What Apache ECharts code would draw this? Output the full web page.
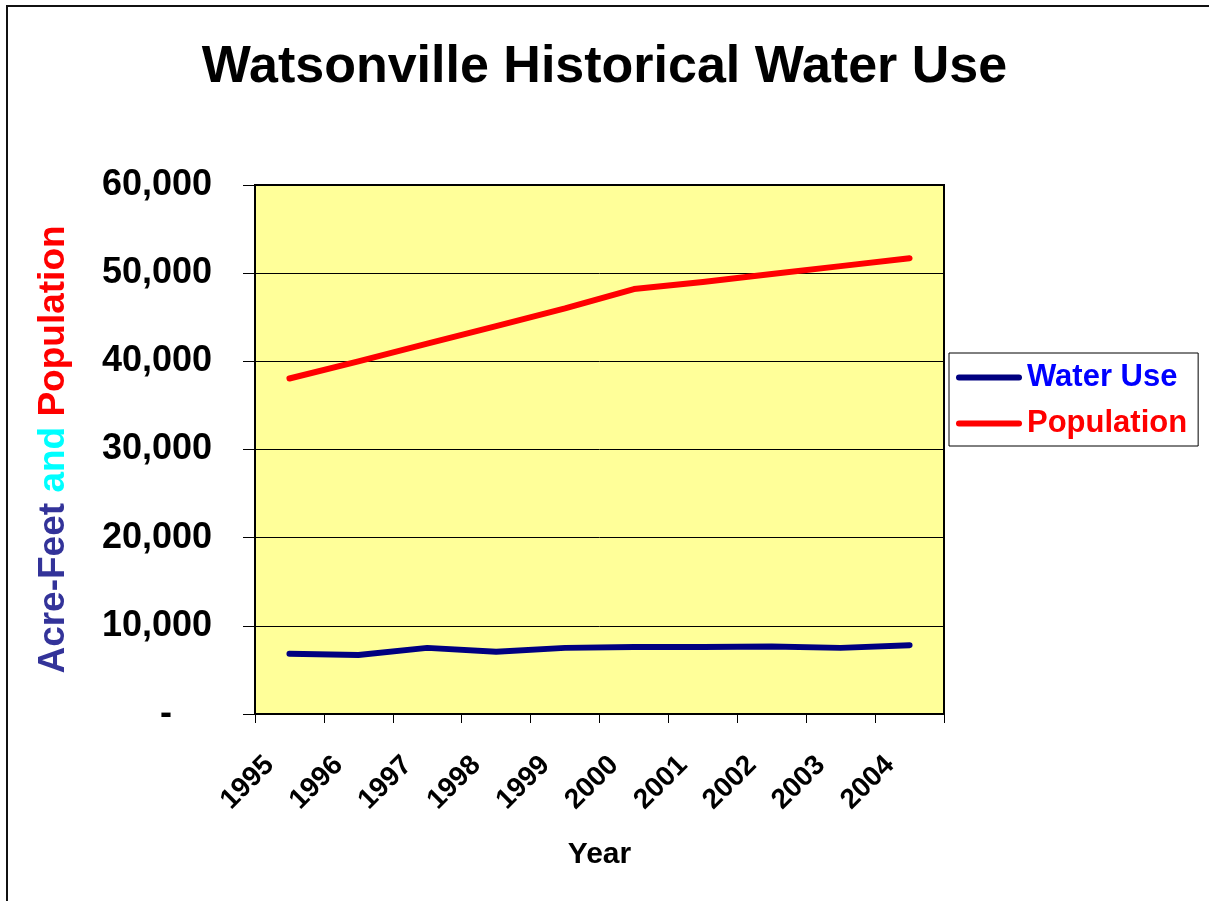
<!DOCTYPE html>
<html>
<head>
<meta charset="utf-8">
<title>Watsonville Historical Water Use</title>
<script src="https://cdn.jsdelivr.net/npm/echarts@6/dist/echarts.min.js"></script>
<style>
  html, body { margin: 0; padding: 0; background: #fff; }
  #main { width: 1209px; height: 901px; }
</style>
</head>
<body>
<!-- chart container -->
<div id="main"></div>
<script>
// data
var years = ['1995', '1996', '1997', '1998', '1999', '2000', '2001', '2002', '2003', '2004']
var waterUse = [6840, 6700, 7500, 7050, 7500, 7600, 7600, 7650, 7500, 7800]
var population = [38050, 40000, 42000, 44000, 46000, 48200, 49000, 49900, 50800, 51700]

var FONT = 'Arial, "Liberation Sans", sans-serif'
// thick line with round ends for the legend keys
var LINE_ICON = 'path://M3,0 L63,0 A3,3 0 0 1 63,6 L3,6 A3,3 0 0 1 3,0 Z'

var chart = echarts.init(document.getElementById('main'))
chart.setOption({
  backgroundColor: '#fff',
  textStyle: { fontFamily: FONT },
  // outer frame
  graphic: [{
    type: 'rect',
    shape: { x: 7, y: 6, width: 1300, height: 1000 },
    style: { fill: 'none', stroke: '#111', lineWidth: 2 },
    silent: true
  }],
  title: {
    text: 'Watsonville Historical Water Use',
    left: 'center',
    top: 42,
    padding: 0,
    textStyle: { fontFamily: FONT, fontSize: 52, fontWeight: 'bold', color: '#000' }
  },
  legend: {
    orient: 'vertical',
    left: 949,
    top: 353,
    padding: [9, 11, 7, 7],
    itemWidth: 66,
    itemHeight: 6,
    itemGap: 15,
    backgroundColor: '#fff',
    borderColor: '#000',
    borderWidth: 1,
    borderRadius: 0,
    textStyle: { fontFamily: FONT, fontSize: 31, fontWeight: 'bold' },
    data: [
      { name: 'Water Use', icon: LINE_ICON, textStyle: { color: '#0000FF' } },
      { name: 'Population', icon: LINE_ICON, textStyle: { color: '#FF0000' } }
    ]
  },
  grid: {
    left: 255,
    top: 185,
    width: 689,
    height: 529,
    show: true,
    backgroundColor: '#FFFF99',
    borderColor: '#000',
    borderWidth: 2
  },
  xAxis: {
    type: 'category',
    data: years,
    boundaryGap: true,
    name: 'Year',
    nameLocation: 'middle',
    nameGap: 126,
    nameTextStyle: { fontFamily: FONT, fontSize: 30, fontWeight: 'bold', color: '#000' },
    axisLine: { lineStyle: { color: '#000', width: 1 } },
    axisTick: { show: true, length: 9, lineStyle: { color: '#000' } },
    axisLabel: {
      rotate: 45,
      margin: 27,
      padding: [0, 28, 0, 0],
      color: '#000',
      fontFamily: FONT,
      fontSize: 28,
      fontWeight: 'bold'
    }
  },
  yAxis: {
    type: 'value',
    min: 0,
    max: 60000,
    interval: 10000,
    name: '{a|Acre-Feet} {b|and} {c|Population}',
    nameLocation: 'middle',
    nameRotate: 90,
    nameGap: 183,
    nameTextStyle: {
      fontFamily: FONT,
      fontSize: 37,
      fontWeight: 'bold',
      rich: {
        a: { color: '#333399', fontSize: 37, fontWeight: 'bold', fontFamily: FONT },
        b: { color: '#00FFFF', fontSize: 37, fontWeight: 'bold', fontFamily: FONT },
        c: { color: '#FF0000', fontSize: 37, fontWeight: 'bold', fontFamily: FONT }
      }
    },
    axisLine: { show: true, lineStyle: { color: '#000', width: 1 } },
    axisTick: { show: true, length: 12, lineStyle: { color: '#000' } },
    splitLine: { show: true, lineStyle: { color: '#000', width: 1 } },
    axisLabel: {
      margin: 43,
      color: '#000',
      fontFamily: FONT,
      fontSize: 36,
      fontWeight: 'bold',
      // zero shows as a dash, like the accounting format
      formatter: function (v) {
        return v === 0 ? '{d|-}' : v.toLocaleString('en-US')
      },
      rich: {
        d: { fontFamily: FONT, fontSize: 36, fontWeight: 'bold', color: '#000', padding: [0, 40, 0, 0] }
      }
    }
  },
  series: [{
    name: 'Water Use',
    type: 'line',
    data: waterUse,
    symbol: 'none',
    lineStyle: { color: '#000080', width: 6, cap: 'round', join: 'round' },
    itemStyle: { color: '#000080' }
  }, {
    name: 'Population',
    type: 'line',
    data: population,
    symbol: 'none',
    lineStyle: { color: '#FF0000', width: 6, cap: 'round', join: 'round' },
    itemStyle: { color: '#FF0000' }
  }]
})
</script>
</body>
</html>
